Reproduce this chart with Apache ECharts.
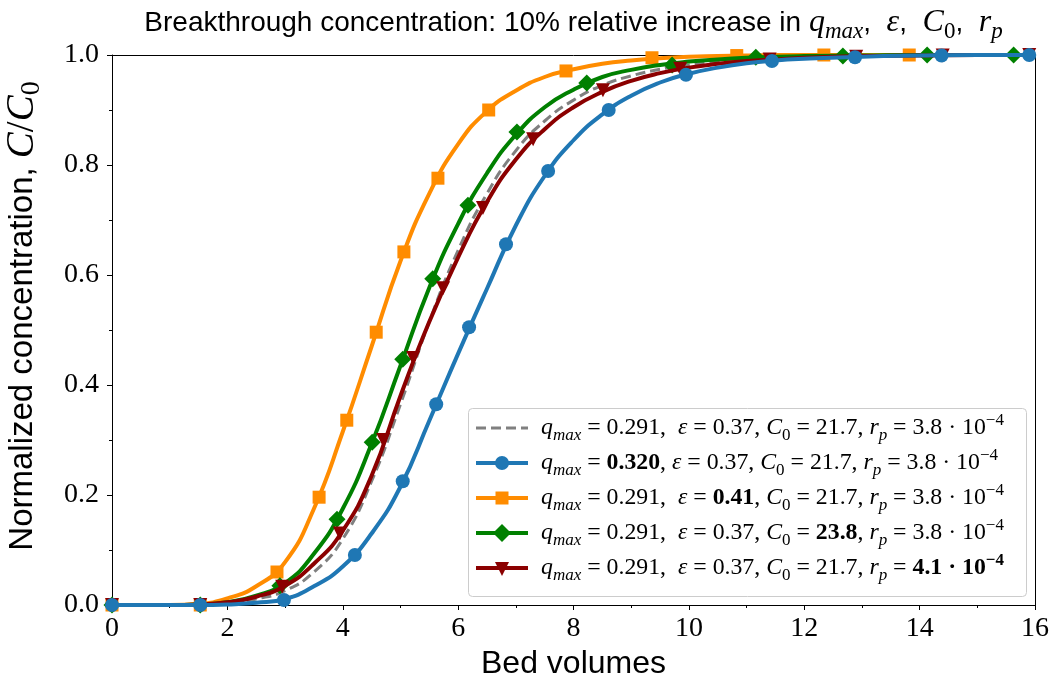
<!DOCTYPE html>
<html>
<head>
<meta charset="utf-8">
<script src="https://cdn.jsdelivr.net/npm/echarts@6/dist/echarts.min.js"></script>
<style>
  html, body { margin: 0; padding: 0; background: #ffffff; }
  #chart { width: 1051px; height: 686px; }
</style>
</head>
<body>
<div id="chart"></div>
<script>
// Bed volumes at which each breakthrough curve is sampled
const bedVolumes = [0, 0.5, 1, 1.5, 2, 2.5, 3, 3.5, 4, 4.5, 5, 5.5, 6, 6.5, 7, 7.5, 8, 8.5, 9, 9.5, 10, 10.5, 11, 11.5, 12, 13, 14, 15, 16];

// Normalized concentration C/C0 for each parameter set
const baseCurve   = [0, 0, 0, 0, 0.003, 0.011, 0.026, 0.060, 0.120, 0.225, 0.365, 0.515, 0.645, 0.748, 0.826, 0.880, 0.918, 0.945, 0.962, 0.974, 0.982, 0.988, 0.992, 0.995, 0.997, 0.999, 1, 1, 1];
const qmaxCurve   = [0, 0, 0, 0, 0.001, 0.004, 0.011, 0.034, 0.070, 0.130, 0.215, 0.335, 0.457, 0.575, 0.690, 0.780, 0.845, 0.892, 0.926, 0.950, 0.966, 0.977, 0.985, 0.990, 0.993, 0.997, 0.999, 1, 1];
const epsCurve    = [0, 0, 0, 0.002, 0.012, 0.034, 0.078, 0.175, 0.315, 0.470, 0.625, 0.748, 0.838, 0.898, 0.935, 0.960, 0.974, 0.984, 0.990, 0.994, 0.997, 0.998, 0.999, 1, 1, 1, 1, 1, 1];
const c0Curve     = [0, 0, 0, 0.001, 0.005, 0.017, 0.040, 0.093, 0.175, 0.293, 0.435, 0.577, 0.693, 0.785, 0.855, 0.905, 0.937, 0.960, 0.973, 0.982, 0.988, 0.992, 0.995, 0.997, 0.998, 0.999, 1, 1, 1];
const rpCurve     = [0, 0, 0, 0.001, 0.005, 0.015, 0.035, 0.075, 0.135, 0.235, 0.380, 0.515, 0.632, 0.733, 0.810, 0.865, 0.905, 0.933, 0.953, 0.967, 0.977, 0.984, 0.989, 0.992, 0.995, 0.998, 0.999, 1, 1];

// Marker positions along each curve
const qmaxMarkX = [0, 1.53, 2.98, 4.21, 5.04, 5.62, 6.19, 6.83, 7.56, 8.61, 9.95, 11.44, 12.88, 14.38, 15.9];
const qmaxMarkY = [0, 0, 0.009, 0.091, 0.225, 0.365, 0.505, 0.656, 0.789, 0.900, 0.964, 0.989, 0.996, 0.999, 1];
const epsMarkX  = [0, 1.53, 2.86, 3.59, 4.07, 4.58, 5.06, 5.65, 6.53, 7.87, 9.36, 10.83, 12.34, 13.82];
const epsMarkY  = [0, 0, 0.060, 0.196, 0.336, 0.496, 0.642, 0.776, 0.900, 0.971, 0.995, 0.999, 1, 1];
const c0MarkX   = [0, 1.53, 2.91, 3.90, 4.51, 5.04, 5.56, 6.17, 7.02, 8.23, 9.71, 11.16, 12.67, 14.13, 15.63];
const c0MarkY   = [0, 0, 0.035, 0.156, 0.296, 0.447, 0.593, 0.727, 0.860, 0.949, 0.982, 0.996, 0.998, 1, 1];
const rpMarkX   = [0, 1.53, 2.95, 3.95, 4.70, 5.22, 5.74, 6.43, 7.30, 8.51, 9.85, 11.40, 12.90, 14.40, 15.90];
const rpMarkY   = [0, 0, 0.033, 0.130, 0.300, 0.449, 0.576, 0.722, 0.847, 0.936, 0.975, 0.992, 0.997, 0.999, 1];

const xTicks = [0, 2, 4, 6, 8, 10, 12, 14, 16];
const yTicks = [0.0, 0.2, 0.4, 0.6, 0.8, 1.0];

const COLORS = { base: '#808080', qmax: '#1f77b4', eps: '#ff8c00', c0: '#008000', rp: '#8b0000' };

const SERIF = '"Liberation Serif", "DejaVu Serif", serif';
const SANS = '"Liberation Sans", Arial, sans-serif';

function pairs(xs, ys) { return xs.map((x, i) => [x, ys[i]]); }

function curve(name, ys, color, z, dashed) {
  return {
    name: name, type: 'line', data: pairs(bedVolumes, ys),
    smooth: 0.5, showSymbol: false, symbol: 'none',
    lineStyle: { color: color, width: dashed ? 3 : 4, type: dashed ? [10, 5] : 'solid' },
    z: z, silent: true, animation: false
  };
}
function markers(name, xs, ys, color, symbol, size, z, rotate) {
  return {
    name: name + ' markers', type: 'scatter', data: pairs(xs, ys),
    symbol: symbol, symbolSize: size, symbolRotate: rotate || 0,
    itemStyle: { color: color, opacity: 1 }, z: z, silent: true, animation: false
  };
}

// math text styles used by the title, axis name and legend
function mathRich(size, family, mathSize) {
  const ms = mathSize || size;
  const small = Math.round(ms * 0.72);
  const lh = Math.max(size, ms) + 8;
  return {
    t:   { fontFamily: family, fontSize: size, lineHeight: lh, color: '#000' },
    it:  { fontFamily: SERIF, fontStyle: 'italic', fontSize: ms, lineHeight: lh, color: '#000' },
    n:   { fontFamily: SERIF, fontSize: ms, lineHeight: lh, color: '#000' },
    b:   { fontFamily: SERIF, fontWeight: 'bold', fontSize: ms, lineHeight: lh, color: '#000' },
    sub: { fontFamily: SERIF, fontStyle: 'italic', fontSize: small, lineHeight: small + 2, verticalAlign: 'bottom', color: '#000' },
    s0:  { fontFamily: SERIF, fontSize: small, lineHeight: small + 2, verticalAlign: 'bottom', color: '#000' },
    sup: { fontFamily: SERIF, fontSize: small, lineHeight: small + 2, verticalAlign: 'top', color: '#000' },
    bsup:{ fontFamily: SERIF, fontWeight: 'bold', fontSize: small, lineHeight: small + 2, verticalAlign: 'top', color: '#000' }
  };
}

const chart = echarts.init(document.getElementById('chart'), null, { renderer: 'canvas' });

const legendRows = [
  { color: COLORS.base, dashed: true, symbol: null,
    text: '{it|q}{sub|max}{n| = 0.291,  }{it|ε}{n| = 0.37, }{it|C}{s0|0}{n| = 21.7, }{it|r}{sub|p}{n| = 3.8 · 10}{sup|−4}' },
  { color: COLORS.qmax, symbol: 'circle',
    text: '{it|q}{sub|max}{n| = }{b|0.320}{n|, }{it|ε}{n| = 0.37, }{it|C}{s0|0}{n| = 21.7, }{it|r}{sub|p}{n| = 3.8 · 10}{sup|−4}' },
  { color: COLORS.eps, symbol: 'square',
    text: '{it|q}{sub|max}{n| = 0.291,  }{it|ε}{n| = }{b|0.41}{n|, }{it|C}{s0|0}{n| = 21.7, }{it|r}{sub|p}{n| = 3.8 · 10}{sup|−4}' },
  { color: COLORS.c0, symbol: 'diamond',
    text: '{it|q}{sub|max}{n| = 0.291,  }{it|ε}{n| = 0.37, }{it|C}{s0|0}{n| = }{b|23.8}{n|, }{it|r}{sub|p}{n| = 3.8 · 10}{sup|−4}' },
  { color: COLORS.rp, symbol: 'triangle',
    text: '{it|q}{sub|max}{n| = 0.291,  }{it|ε}{n| = 0.37, }{it|C}{s0|0}{n| = 21.7, }{it|r}{sub|p}{n| = }{b|4.1 · 10}{bsup|−4}' }
];

const LEG = { x: 468, y: 408, w: 558, h: 188, row0: 428, rowGap: 35, hx0: 476, hx1: 528, tx: 541 };

function legendGraphics() {
  const els = [{
    type: 'rect', shape: { x: LEG.x + 0.5, y: LEG.y + 0.5, width: LEG.w, height: LEG.h, r: 4 },
    style: { fill: 'rgba(255,255,255,0.8)', stroke: '#cccccc', lineWidth: 1 }, z: 100
  }];
  legendRows.forEach((row, i) => {
    const cy = LEG.row0 + i * LEG.rowGap;
    const cx = (LEG.hx0 + LEG.hx1) / 2;
    els.push({
      type: 'line', shape: { x1: LEG.hx0, y1: cy, x2: LEG.hx1, y2: cy },
      style: { stroke: row.color, lineWidth: row.dashed ? 3 : 4, lineDash: row.dashed ? [10, 5] : null }, z: 101
    });
    let sym = null;
    if (row.symbol === 'circle') sym = { type: 'circle', shape: { cx: cx, cy: cy, r: 7 } };
    if (row.symbol === 'square') sym = { type: 'rect', shape: { x: cx - 6.5, y: cy - 6.5, width: 13, height: 13 } };
    if (row.symbol === 'diamond') sym = { type: 'polygon', shape: { points: [[cx, cy - 9], [cx + 9, cy], [cx, cy + 9], [cx - 9, cy]] } };
    if (row.symbol === 'triangle') sym = { type: 'polygon', shape: { points: [[cx - 7, cy - 6], [cx + 7, cy - 6], [cx, cy + 8]] } };
    if (sym) { sym.style = { fill: row.color }; sym.z = 102; els.push(sym); }
    els.push({
      type: 'text', x: LEG.tx, y: cy, z: 102,
      style: { text: row.text, rich: mathRich(23.8, SERIF), verticalAlign: 'middle', align: 'left' }
    });
  });
  return els;
}

const frameAxis = {
  axisLine: { show: true, onZero: false, lineStyle: { color: '#000', width: 1 } },
  axisTick: { show: false }, axisLabel: { show: false }, splitLine: { show: false }
};

const option = {
  backgroundColor: '#ffffff',
  animation: false,
  grid: { left: 112, right: 16, top: 55, bottom: 81, show: false, containLabel: false, outerBoundsMode: 'none' },
  xAxis: [{
    type: 'value', min: xTicks[0], max: xTicks[xTicks.length - 1], interval: 2,
    name: 'Bed volumes', nameLocation: 'middle', nameGap: 40,
    nameTextStyle: { fontFamily: SANS, fontSize: 32, color: '#000' },
    axisLine: { show: true, onZero: false, lineStyle: { color: '#000', width: 1 } },
    axisTick: { show: true, inside: false, length: 5, lineStyle: { color: '#000' } },
    minorTick: { show: true, splitNumber: 2, length: 3, lineStyle: { color: '#000' } },
    splitLine: { show: false },
    axisLabel: { fontFamily: SERIF, fontSize: 28, color: '#000', margin: 10 }
  }, Object.assign({ type: 'value', position: 'top', min: xTicks[0], max: xTicks[xTicks.length - 1] }, frameAxis)],
  yAxis: [{
    type: 'value', min: yTicks[0], max: yTicks[yTicks.length - 1], interval: 0.2,
    name: 'Normalized concentration, {it|C}{n|/}{it|C}{s0|0}', nameLocation: 'middle', nameGap: 66,
    nameTextStyle: { fontFamily: SANS, fontSize: 33, color: '#000', rich: mathRich(33, SANS, 39), padding: [0, 0, 0, 28] },
    axisLine: { show: true, onZero: false, lineStyle: { color: '#000', width: 1 } },
    axisTick: { show: true, inside: false, length: 5, lineStyle: { color: '#000' } },
    minorTick: { show: true, splitNumber: 2, length: 3, lineStyle: { color: '#000' } },
    splitLine: { show: false },
    axisLabel: { fontFamily: SERIF, fontSize: 28, color: '#000', margin: 13, formatter: v => v.toFixed(1) }
  }, Object.assign({ type: 'value', position: 'right', min: yTicks[0], max: yTicks[yTicks.length - 1] }, frameAxis)],
  graphic: [
    {
      type: 'text', x: 573.5, y: 23, z: 100,
      style: {
        text: '{t|Breakthrough concentration: 10% relative increase in }{it|q}{sub|max}{t|,  }{it|ε}{t|,  }{it|C}{s0|0}{t|,  }{it|r}{sub|p}',
        rich: mathRich(28, SANS, 32), align: 'center', verticalAlign: 'middle'
      }
    }
  ].concat(legendGraphics()),
  series: [
    curve('base', baseCurve, COLORS.base, 2, true),
    curve('eps', epsCurve, COLORS.eps, 3),
    markers('eps', epsMarkX, epsMarkY, COLORS.eps, 'rect', 13, 3),
    curve('c0', c0Curve, COLORS.c0, 4),
    markers('c0', c0MarkX, c0MarkY, COLORS.c0, 'diamond', 17, 4),
    curve('rp', rpCurve, COLORS.rp, 5),
    markers('rp', rpMarkX, rpMarkY, COLORS.rp, 'triangle', 14, 5, 180),
    curve('qmax', qmaxCurve, COLORS.qmax, 6),
    markers('qmax', qmaxMarkX, qmaxMarkY, COLORS.qmax, 'circle', 14, 6)
  ]
};

chart.setOption(option);
</script>
</body>
</html>
